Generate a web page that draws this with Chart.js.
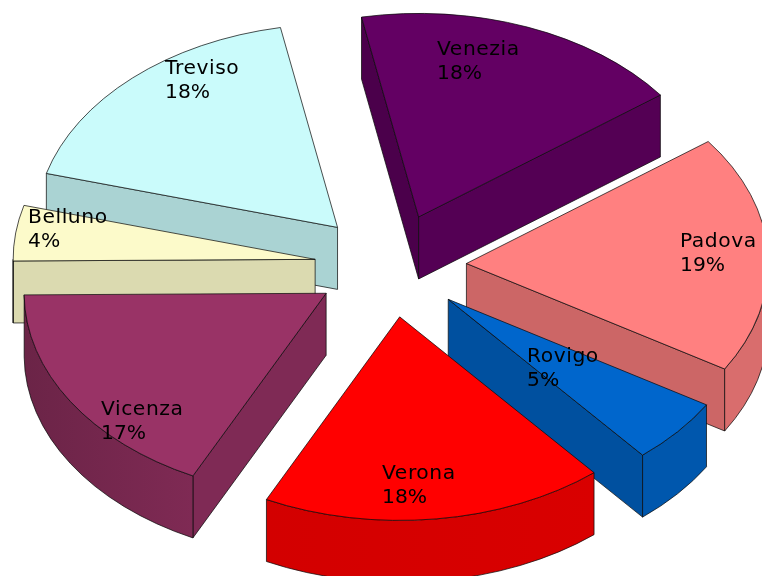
<!DOCTYPE html>
<html>
<head>
<meta charset="utf-8">
<style>
html,body{margin:0;padding:0;background:#fff}
#wrap{position:relative;width:762px;height:576px;overflow:hidden}
</style>
<script src="https://cdn.jsdelivr.net/npm/chart.js@4/dist/chart.umd.min.js"></script>
</head>
<body>
<div id="wrap"><canvas id="c"></canvas></div>
<script>
// Data
const categories = ["Venezia","Padova","Rovigo","Verona","Vicenza","Belluno","Treviso"];
const shares = [17.8,18.9,5.2,18.4,17.6,4.4,17.7];
const shareLabels = ["18%","19%","5%","18%","17%","4%","18%"];
// Styles
const topColors = ["#630063","#FF8080","#0066CC","#FF0000","#993366","#FCFACA","#CAFBFB"];
const edgeShade = [0.85,0.80,0.78,0.85,0.83,0.87,0.84];
const explodeBy = [78,76,76,76,76,76,78];
const paintOrder = [0,6,1,5,2,4,3];
const labelX = [437,680,527,382,101,28,165];
const labelY = [55,247,362,479,415,223,74];

const SQUASH = 0.674, DEPTH = 62, TAU = Math.PI*2;

function shade(hex,f){
  const n=parseInt(hex.slice(1),16);
  const c=[(n>>16)&255,(n>>8)&255,n&255].map(v=>Math.round(v*f));
  return `rgb(${c[0]},${c[1]},${c[2]})`;
}
function arcShadeAt(theta){
  const deg=theta*180/Math.PI;
  return Math.min(0.85,0.70+(180-deg)*0.002);
}
const pie3d={
  id:'pie3d',
  beforeDatasetsDraw(chart){
    const ctx=chart.ctx, arcs=chart.getDatasetMeta(0).data;
    paintOrder.forEach(i=>{
      const arc=arcs[i], s=arc.startAngle, e=arc.endAngle, r=arc.outerRadius;
      const mid=(s+e)/2;
      const cx=arc.x+Math.cos(mid)*explodeBy[i];
      const cy=arc.y+Math.sin(mid)*explodeBy[i]*SQUASH;
      const px=t=>cx+r*Math.cos(t), py=t=>cy+r*Math.sin(t)*SQUASH;
      const base=topColors[i];
      ctx.save();
      ctx.lineWidth=0.9; ctx.strokeStyle='rgba(10,10,10,0.8)'; ctx.lineJoin='round';
      const quad=(t,fill)=>{
        ctx.beginPath();
        ctx.moveTo(cx,cy);ctx.lineTo(px(t),py(t));
        ctx.lineTo(px(t),py(t)+DEPTH);ctx.lineTo(cx,cy+DEPTH);ctx.closePath();
        ctx.fillStyle=fill;ctx.fill();ctx.stroke();
      };
      if(Math.cos(s)<0) quad(s,shade(base,i===0?0.76:edgeShade[i]));
      if(Math.cos(e)>0) quad(e,shade(base,edgeShade[i]));
      // outer curved wall: only the part facing the viewer
      for(let k=-1;k<=1;k++){
        const a=Math.max(s,TAU*k), b=Math.min(e,Math.PI+TAU*k);
        if(b<=a) continue;
        const g=ctx.createLinearGradient(px(b),0,px(a),0);
        g.addColorStop(0,shade(base,arcShadeAt(b-TAU*k)));
        g.addColorStop(1,shade(base,arcShadeAt(a-TAU*k)));
        ctx.beginPath();
        ctx.ellipse(cx,cy,r,r*SQUASH,0,a,b);
        ctx.lineTo(px(b),py(b)+DEPTH);
        ctx.ellipse(cx,cy+DEPTH,r,r*SQUASH,0,b,a,true);
        ctx.closePath();
        ctx.fillStyle=g;ctx.fill();ctx.stroke();
      }
      // top face: the library's own arc, flattened
      ctx.save();
      ctx.translate(cx,cy);ctx.scale(1,SQUASH);ctx.translate(-arc.x,-arc.y);
      arc.draw(ctx);
      ctx.restore();
      ctx.beginPath();
      ctx.moveTo(cx,cy);
      ctx.ellipse(cx,cy,r,r*SQUASH,0,s,e);
      ctx.closePath();ctx.stroke();
      ctx.restore();
    });
    return false;
  },
  afterDraw(chart){
    const ctx=chart.ctx;
    ctx.save();
    ctx.fillStyle='#000';ctx.textAlign='left';ctx.textBaseline='alphabetic';
    ctx.font='20.3px "DejaVu Sans"';
    categories.forEach((name,i)=>{
      ctx.letterSpacing='0.55px';
      ctx.fillText(name,labelX[i],labelY[i]);
      ctx.letterSpacing='0px';
      ctx.fillText(shareLabels[i],labelX[i],labelY[i]+24);
    });
    ctx.restore();
  }
};
new Chart(document.getElementById('c'),{
  type:'pie',
  data:{labels:categories,datasets:[{data:shares,backgroundColor:topColors,borderWidth:0}]},
  options:{
    responsive:true,maintainAspectRatio:false,animation:false,
    rotation:-10.9,radius:302,
    layout:{padding:{left:19,bottom:44}},
    plugins:{legend:{display:false},tooltip:{enabled:false}}
  },
  plugins:[pie3d]
});
</script>
</body>
</html>
